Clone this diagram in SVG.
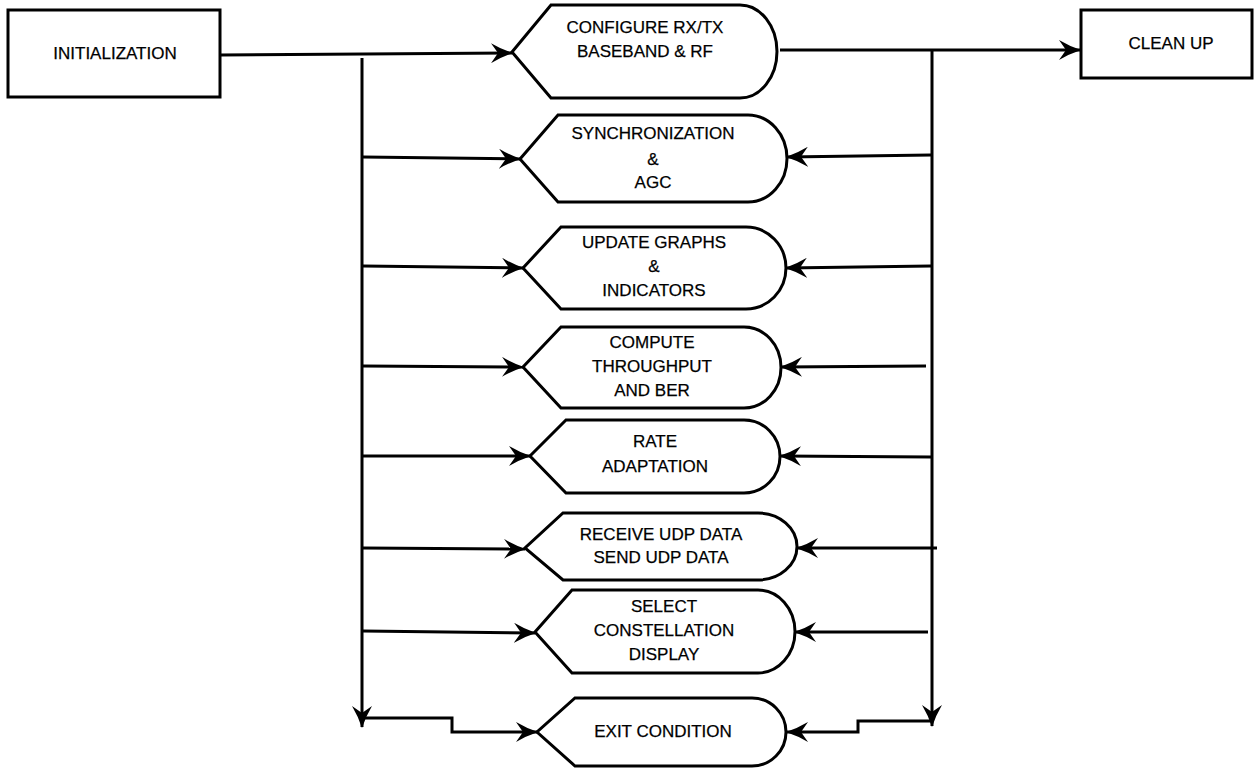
<svg xmlns="http://www.w3.org/2000/svg" width="1257" height="768" viewBox="0 0 1257 768">
<style>
.shape{fill:#fff;stroke:#000;stroke-width:3;stroke-linejoin:miter}
.ln{fill:none;stroke:#000;stroke-width:3}
text{font-family:"Liberation Sans",Arial,sans-serif;font-size:17px;fill:#000;stroke:#000;stroke-width:0.25;text-anchor:middle}
</style>
<defs>
<marker id="ah" viewBox="0 0 22 20" refX="21" refY="10" markerWidth="22" markerHeight="20" markerUnits="userSpaceOnUse" orient="auto">
<path d="M0,0 Q10,6 22,10 Q10,14 0,20 L7,10 Z" fill="#000"/>
</marker>
</defs>
<rect width="1257" height="768" fill="#fff"/>
<g id="connectors">
<line class="ln" x1="220" y1="55" x2="512" y2="53" marker-end="url(#ah)"/>
<line class="ln" x1="362" y1="58" x2="362" y2="727" marker-end="url(#ah)"/>
<line class="ln" x1="780" y1="50" x2="1080" y2="50" marker-end="url(#ah)"/>
<line class="ln" x1="932" y1="50" x2="932" y2="726" marker-end="url(#ah)"/>
<line class="ln" x1="363" y1="157" x2="520" y2="159" marker-end="url(#ah)"/>
<line class="ln" x1="363" y1="266" x2="523" y2="268" marker-end="url(#ah)"/>
<line class="ln" x1="363" y1="366" x2="523" y2="367" marker-end="url(#ah)"/>
<line class="ln" x1="363" y1="456" x2="530" y2="456" marker-end="url(#ah)"/>
<line class="ln" x1="363" y1="548" x2="525" y2="549" marker-end="url(#ah)"/>
<line class="ln" x1="363" y1="631" x2="535" y2="633" marker-end="url(#ah)"/>
<line class="ln" x1="931" y1="155" x2="787" y2="157" marker-end="url(#ah)"/>
<line class="ln" x1="931" y1="266" x2="786" y2="268" marker-end="url(#ah)"/>
<line class="ln" x1="926" y1="366" x2="781" y2="367" marker-end="url(#ah)"/>
<line class="ln" x1="931" y1="457" x2="780" y2="456" marker-end="url(#ah)"/>
<line class="ln" x1="937" y1="548" x2="797" y2="548" marker-end="url(#ah)"/>
<line class="ln" x1="928" y1="632" x2="795" y2="632" marker-end="url(#ah)"/>
<polyline class="ln" points="362,718 452,718 452,732 537,732" marker-end="url(#ah)"/>
<polyline class="ln" points="932,721 858,721 858,732 787,732" marker-end="url(#ah)"/>
</g>
<g id="init">
<rect class="shape" x="8" y="10" width="212" height="87"/>
<text x="115" y="59">INITIALIZATION</text>
</g>
<g id="cleanup">
<rect class="shape" x="1081" y="10" width="171" height="68"/>
<text x="1171" y="49">CLEAN UP</text>
</g>
<g id="configure">
<path class="shape" d="M551,5 L740,5 A37,46.5 0 0 1 740,98 L551,98 L512,52 Z"/>
<text x="645" y="33">CONFIGURE RX/TX</text>
<text x="645" y="57">BASEBAND &amp; RF</text>
</g>
<g id="sync">
<path class="shape" d="M558,115 L748,115 A39,43.5 0 0 1 748,202 L558,202 L520,159 Z"/>
<text x="653" y="139">SYNCHRONIZATION</text>
<text x="653" y="165">&amp;</text>
<text x="653" y="188">AGC</text>
</g>
<g id="update">
<path class="shape" d="M561,227 L746,227 A40,41 0 0 1 746,309 L561,309 L523,268 Z"/>
<text x="654" y="248">UPDATE GRAPHS</text>
<text x="654" y="272">&amp;</text>
<text x="654" y="296">INDICATORS</text>
</g>
<g id="compute">
<path class="shape" d="M561,327 L744,327 A37,40.5 0 0 1 744,408 L561,408 L523,367 Z"/>
<text x="652" y="348">COMPUTE</text>
<text x="652" y="372">THROUGHPUT</text>
<text x="652" y="396">AND BER</text>
</g>
<g id="rate">
<path class="shape" d="M566,420 L744,420 A36,36.5 0 0 1 744,493 L566,493 L530,456 Z"/>
<text x="655" y="447">RATE</text>
<text x="655" y="472">ADAPTATION</text>
</g>
<g id="udp">
<path class="shape" d="M563,513 L758,513 A39,33.5 0 0 1 758,580 L563,580 L525,548 Z"/>
<text x="661" y="540">RECEIVE UDP DATA</text>
<text x="661" y="563">SEND UDP DATA</text>
</g>
<g id="select">
<path class="shape" d="M572,590 L758,590 A37,41.5 0 0 1 758,673 L572,673 L535,632 Z"/>
<text x="664" y="612">SELECT</text>
<text x="664" y="636">CONSTELLATION</text>
<text x="664" y="660">DISPLAY</text>
</g>
<g id="exit">
<path class="shape" d="M575,698 L752,698 A34,34 0 0 1 752,766 L575,766 L537,732 Z"/>
<text x="663" y="737">EXIT CONDITION</text>
</g>
</svg>
